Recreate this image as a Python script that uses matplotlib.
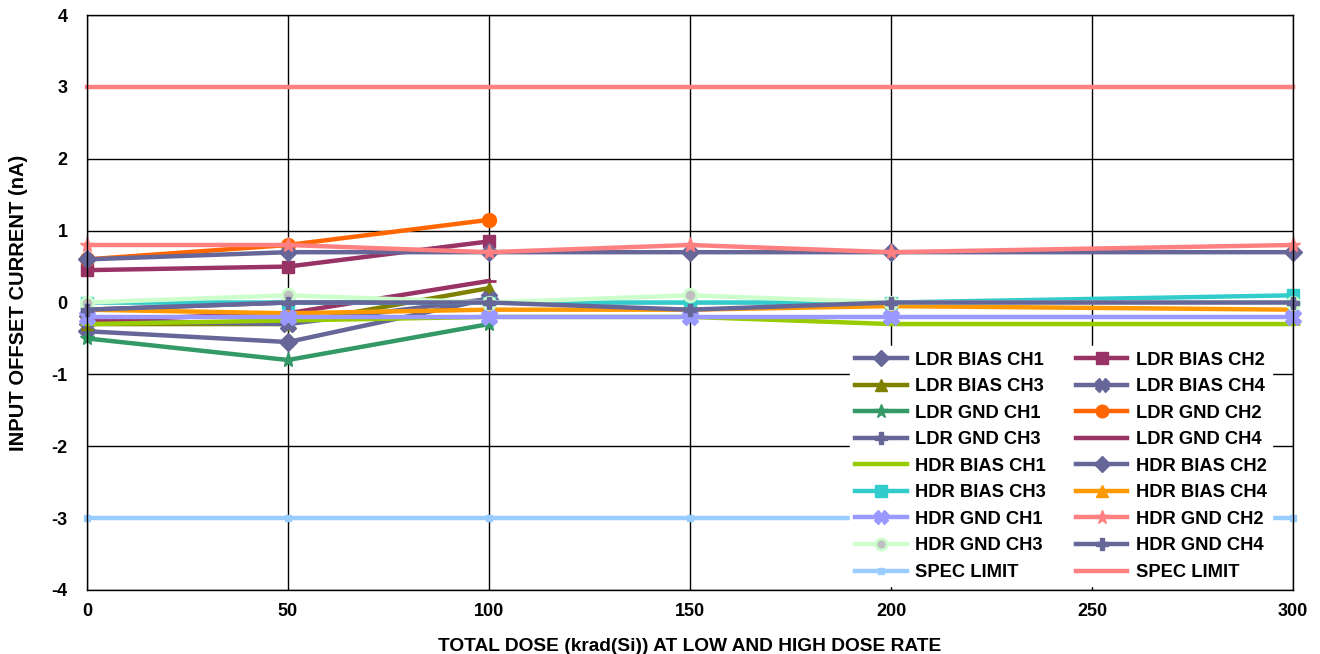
import matplotlib
matplotlib.use("Agg")
import matplotlib.pyplot as plt

plt.rcParams['font.family'] = ['Liberation Sans', 'DejaVu Sans']
plt.rcParams['font.weight'] = 'bold'
plt.rcParams['axes.unicode_minus'] = False

ldr_dose = [0, 50, 100]
hdr_dose = [0, 50, 100, 150, 200, 300]
spec_dose = [0, 50, 100, 150, 200, 250, 300]

names = ["LDR BIAS CH1", "LDR BIAS CH2", "LDR BIAS CH3", "LDR BIAS CH4",
         "LDR GND CH1", "LDR GND CH2", "LDR GND CH3", "LDR GND CH4",
         "HDR BIAS CH1", "HDR BIAS CH2", "HDR BIAS CH3", "HDR BIAS CH4",
         "HDR GND CH1", "HDR GND CH2", "HDR GND CH3", "HDR GND CH4",
         "SPEC LIMIT", "SPEC LIMIT"]

ldr_bias_ch1 = [-0.4, -0.55, 0.05]
ldr_bias_ch2 = [0.45, 0.5, 0.85]
ldr_bias_ch3 = [-0.3, -0.3, 0.2]
ldr_bias_ch4 = [-0.25, -0.3, 0.05]
ldr_gnd_ch1 = [-0.5, -0.8, -0.3]
ldr_gnd_ch2 = [0.6, 0.8, 1.15]
ldr_gnd_ch3 = [-0.1, 0.0, 0.0]
ldr_gnd_ch4 = [-0.25, -0.15, 0.3]
hdr_bias_ch1 = [-0.3, -0.25, -0.2, -0.2, -0.3, -0.3]
hdr_bias_ch2 = [0.6, 0.7, 0.7, 0.7, 0.7, 0.7]
hdr_bias_ch3 = [0.0, 0.0, 0.0, 0.0, 0.0, 0.1]
hdr_bias_ch4 = [-0.1, -0.15, -0.1, -0.1, -0.05, -0.1]
hdr_gnd_ch1 = [-0.2, -0.2, -0.2, -0.2, -0.2, -0.2]
hdr_gnd_ch2 = [0.8, 0.8, 0.7, 0.8, 0.7, 0.8]
hdr_gnd_ch3 = [0.0, 0.1, 0.0, 0.1, 0.0, 0.0]
hdr_gnd_ch4 = [-0.1, 0.0, 0.0, -0.1, 0.0, 0.0]
spec_low = [-3, -3, -3, -3, -3, -3, -3]
spec_high = [3, 3, 3, 3, 3, 3, 3]

series = [
    (ldr_dose, ldr_bias_ch1, '#666699', 'D', '#666699'),
    (ldr_dose, ldr_bias_ch2, '#993366', 's', '#993366'),
    (ldr_dose, ldr_bias_ch3, '#808000', '^', '#808000'),
    (ldr_dose, ldr_bias_ch4, '#666699', 'X', '#666699'),
    (ldr_dose, ldr_gnd_ch1, '#339966', '*', '#339966'),
    (ldr_dose, ldr_gnd_ch2, '#FF6600', 'o', '#FF6600'),
    (ldr_dose, ldr_gnd_ch3, '#666699', 'P', '#666699'),
    (ldr_dose, ldr_gnd_ch4, '#993366', '_', '#993366'),
    (hdr_dose, hdr_bias_ch1, '#99CC00', '_', '#99CC00'),
    (hdr_dose, hdr_bias_ch2, '#666699', 'D', '#666699'),
    (hdr_dose, hdr_bias_ch3, '#33CCCC', 's', '#33CCCC'),
    (hdr_dose, hdr_bias_ch4, '#FF9900', '^', '#FF9900'),
    (hdr_dose, hdr_gnd_ch1, '#9999FF', 'X', '#9999FF'),
    (hdr_dose, hdr_gnd_ch2, '#FF8080', '*', '#FF8080'),
    (hdr_dose, hdr_gnd_ch3, '#CCFFCC', 'o', '#C0C0C0'),
    (hdr_dose, hdr_gnd_ch4, '#666699', 'P', '#666699'),
    (spec_dose, spec_low, '#99CCFF', 's', '#99CCFF'),
    (spec_dose, spec_high, '#FF8080', '', '#FF8080'),
]

fig = plt.figure(figsize=(13.2, 6.54), dpi=100)
ax = fig.add_axes([87/1320, 64/654, 1206/1320, 575/654])

handles = []
for i, (xs, ys, c, m, fc) in enumerate(series):
    ms = 9
    if m == '_':
        ms = 10
    if m in ('*', 'X'):
        ms = 11
    if i == 16:
        ms = 5
    h, = ax.plot(xs, ys, color=c, lw=3.2, marker=m if m else None,
                 markersize=ms, markerfacecolor=fc, markeredgecolor=c,
                 markeredgewidth=2 if m in ('_', 'o') else 1,
                 label=names[i], clip_on=False, zorder=3)
    handles.append(h)

ax.set_xlim(0, 300)
ax.set_ylim(-4, 4)
ax.set_xticks([0, 50, 100, 150, 200, 250, 300])
ax.set_yticks([-4, -3, -2, -1, 0, 1, 2, 3, 4])
ax.grid(True, color='black', lw=1, zorder=0)
ax.set_axisbelow(True)
for s in ax.spines.values():
    s.set_color('black')
    s.set_linewidth(1)
    s.set_zorder(6)
ax.tick_params(length=0, labelsize=13)
ax.tick_params(axis='x', pad=9)
ax.tick_params(axis='y', pad=14)
for lab in ax.get_xticklabels() + ax.get_yticklabels():
    lab.set_fontweight('bold')

ax.set_xlabel("TOTAL DOSE (krad(Si)) AT LOW AND HIGH DOSE RATE",
              fontsize=13.8, fontweight='bold', va='top')
ax.xaxis.set_label_coords(0.5, -0.083)
ax.set_ylabel("INPUT OFFSET CURRENT (nA)", fontsize=14.5, fontweight='bold',
              labelpad=17)

order = list(range(0, 18, 2)) + list(range(1, 18, 2))
leg = ax.legend([handles[i] for i in order], [names[i] for i in order],
                ncol=2, loc='upper left', bbox_to_anchor=(0.625, 0.440),
                fontsize=13.2, frameon=True, fancybox=False,
                edgecolor='white', facecolor='white', framealpha=1,
                handlelength=2.8, columnspacing=1.65, labelspacing=0.52,
                handletextpad=0.45, borderpad=0.3, markerscale=0.9)
leg.set_zorder(5)
for t in leg.get_texts():
    t.set_fontweight('bold')

fig.savefig("out.png", dpi=100)
